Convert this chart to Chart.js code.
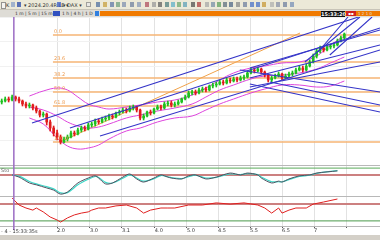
<!DOCTYPE html>
<html><head><meta charset="utf-8">
<script src="https://cdn.jsdelivr.net/npm/chart.js@4.4.1/dist/chart.umd.min.js"></script>
<style>
html,body{margin:0;padding:0;width:380px;height:240px;overflow:hidden;background:#fff;font-family:"DejaVu Sans",sans-serif;}
#tb{position:absolute;left:0;top:0;width:380px;height:10px;background:#ece9d8;border-bottom:1px solid #c8c4b8;box-sizing:border-box;}
#tb i{position:absolute;top:2px;width:4px;height:5px;display:block;opacity:0.75;}
#tb b{position:absolute;top:1px;font:5px/8px "DejaVu Sans";color:#333;white-space:nowrap;font-weight:normal;}
#tabs{position:absolute;left:0;top:10px;width:380px;height:7px;background:#dedcd6;}
#tabs b{position:absolute;top:1px;font:4.5px/5px "DejaVu Sans";color:#333;white-space:nowrap;font-weight:normal;}
#orange{position:absolute;left:100px;top:11px;width:280px;height:5px;background:#f07a00;}
#clock{position:absolute;left:321px;top:11px;width:24px;height:6px;background:#111;color:#fff;font:bold 5px/6px "DejaVu Sans";text-align:center;}
#red{position:absolute;left:346px;top:11px;width:10px;height:5px;background:#d02020;color:#fff;font:4px/5px "DejaVu Sans";text-align:center;}
#rtx{position:absolute;left:358px;top:11px;font:4px/5px "DejaVu Sans";color:#ddd;}
#wrap{position:absolute;left:0;top:17px;width:380px;height:218px;}
#bot{position:absolute;left:0;top:235px;width:380px;height:5px;background:#d4d0c8;}
</style></head>
<body>
<div id="tb">
 <i style="left:1px;background:#f8f8f8;border:1px solid #777;width:3px"></i>
 <b style="left:6px">K</b>
 <i style="left:11px;background:#8aa0c8"></i>
 <i style="left:17px;background:#2a48a8"></i>
 <b style="left:24px">▾ 2024.20.4R.LE ▾</b>
 <i style="left:57px;background:#3a5cc8"></i>
 <b style="left:63px">▾ DAX ▾</b>
 <i style="left:86px;background:#e8e8e8;border:1px solid #888;width:3px;height:3px"></i>
 <i style="left:96px;background:#5070a0"></i>
 <i style="left:103px;background:#c8a040"></i>
 <i style="left:110px;background:#6078a8"></i>
 <i style="left:116px;background:#70a080"></i>
 <i style="left:122px;background:#8090b0"></i>
 <i style="left:130px;background:#7080a0"></i>
 <i style="left:137px;background:#8898b8"></i>
 <i style="left:145px;background:#b05060"></i>
 <i style="left:152px;background:#9a9a9a"></i>
 <i style="left:158px;background:#606060"></i>
 <i style="left:165px;background:#508080"></i>
 <i style="left:171px;background:#60b0c8"></i>
 <i style="left:177px;background:#70a870"></i>
 <i style="left:183px;background:#60a0b8"></i>
 <i style="left:191px;background:#505050"></i>
 <i style="left:197px;background:#b04040"></i>
 <i style="left:205px;background:#a8a8a8"></i>
 <i style="left:211px;background:#7890a8"></i>
 <i style="left:217px;background:#60a060"></i>
 <i style="left:223px;background:#607080"></i>
 <i style="left:229px;background:#506888"></i>
 <i style="left:236px;background:#8a8a8a"></i>
 <i style="left:243px;background:#7080a0"></i>
 <i style="left:250px;background:#4a72c8"></i>
 <i style="left:256px;background:#4a72c8"></i>
 <i style="left:262px;background:#c89838"></i>
 <i style="left:270px;background:#b0b0b0"></i>
 <i style="left:276px;background:#8890a8"></i>
 <i style="left:283px;background:#7080a0"></i>
 <i style="left:290px;background:#7890b8"></i>
</div>
<div id="tabs">
 <b style="left:15px">1 m | 5 m | 15 m</b>
 <i style="position:absolute;left:53px;top:1px;width:7px;height:5px;background:#3050c0"></i>
 <b style="left:62px">1 h | 4 h | 1 D</b>
 <i style="position:absolute;left:95px;top:1px;width:4px;height:5px;background:#3080e0"></i>
</div>
<div id="orange"></div>
<div id="clock">15:33:20</div>
<div id="red">▪▪</div>
<div id="rtx">1 2 1 0</div>
<div id="wrap"><canvas id="c" width="380" height="218"></canvas></div>
<div id="bot"></div>
<script>
// ---------- data ----------
const opens = [9400,9410,9430,9420,9450,9430,9410,9380,9360,9370,
 9340,9310,9270,9280,9200,9140,9090,9050,9000,9030,
 9050,9090,9080,9120,9140,9130,9170,9180,9210,9200,
 9230,9240,9260,9250,9290,9300,9320,9310,9340,9350,
 9320,9240,9260,9300,9290,9330,9350,9340,9380,9390,
 9370,9380,9400,9430,9450,9490,9500,9490,9520,9530,
 9520,9560,9570,9580,9600,9590,9620,9610,9630,9620,
 9640,9650,9690,9720,9710,9730,9700,9670,9620,9640,
 9660,9680,9640,9660,9680,9690,9720,9740,9720,9760,
 9800,9860,9910,9940,9920,9950,9960,9970,10010,10040];
const highs = [9430,9450,9450,9470,9460,9450,9420,9400,9390,9380,
 9360,9320,9300,9290,9220,9160,9120,9070,9050,9070,
 9110,9110,9140,9160,9160,9190,9200,9230,9230,9250,
 9260,9280,9280,9300,9320,9340,9340,9360,9370,9360,
 9330,9280,9310,9320,9340,9370,9370,9400,9410,9410,
 9400,9420,9440,9470,9510,9520,9520,9540,9550,9550,
 9570,9590,9600,9620,9620,9640,9640,9650,9650,9660,
 9670,9710,9740,9740,9750,9740,9710,9680,9660,9680,
 9700,9690,9680,9700,9710,9740,9760,9760,9780,9820,
 9880,9930,9960,9960,9970,9980,9990,10030,10060,10090];
const lows = [9380,9400,9400,9410,9410,9390,9360,9340,9340,9320,
 9290,9250,9250,9170,9110,9060,9020,8980,8990,9010,
 9040,9060,9070,9100,9110,9120,9150,9160,9180,9190,
 9210,9220,9230,9240,9270,9290,9290,9300,9320,9300,
 9220,9220,9250,9270,9280,9320,9320,9330,9360,9350,
 9350,9370,9390,9420,9440,9470,9470,9480,9500,9500,
 9510,9540,9550,9570,9570,9580,9590,9600,9600,9610,
 9620,9640,9680,9690,9700,9680,9650,9600,9600,9630,
 9650,9620,9630,9650,9660,9680,9710,9700,9710,9750,
 9790,9840,9890,9900,9910,9930,9940,9960,10000,10030];
const closes = [9410,9430,9420,9450,9430,9410,9380,9360,9370,9340,
 9310,9270,9280,9200,9140,9090,9050,9000,9030,9050,
 9090,9080,9120,9140,9130,9170,9180,9210,9200,9230,
 9240,9260,9250,9290,9300,9320,9310,9340,9350,9320,
 9240,9260,9300,9290,9330,9350,9340,9380,9390,9370,
 9380,9400,9430,9450,9490,9500,9490,9520,9530,9520,
 9560,9570,9580,9600,9590,9620,9610,9630,9620,9640,
 9650,9690,9720,9710,9730,9700,9670,9620,9640,9660,
 9680,9640,9660,9680,9690,9720,9740,9720,9760,9800,
 9860,9910,9940,9920,9950,9960,9970,10010,10040,10080];

const bandIdx = [8,12,16,19,22,25,28,31,36,40,45,50,55,59,63,67,72,76,81,86,91,95,99];
const bandUpper = [9460,9510,9540,9520,9450,9380,9350,9330,9350,9370,9400,9420,9470,9540,9620,9690,9740,9760,9790,9800,9860,9970,10060];
const bandMiddle = [9350,9320,9260,9200,9160,9140,9150,9180,9240,9270,9310,9340,9380,9450,9520,9570,9630,9660,9670,9690,9730,9790,9850];
const bandLower = [9240,9180,9040,8960,8930,8940,8970,9030,9110,9140,9200,9240,9260,9320,9380,9430,9490,9530,9570,9570,9550,9560,9610];

const fibLabels = ['0.0','23.6','38.2','50.0','61.8','100.0'];
const fibLevels = [10070,9800,9640,9500,9360,9000];
const fibStart = 14.8;
const fibDiagonal = [[16.8,9000],[86.2,10090]];

const trendLines = [
 [[8.75,9190],[109.3,10320]],
 [[19.7,9140],[109.3,10140]],
 [[28.4,9060],[109.3,9920]],
 [[71.7,9740],[109.3,10120]],
 [[71.7,9640],[109.3,9970]],
 [[71.7,9550],[109.3,9800]],
 [[68.8,9720],[109.3,9500]],
 [[71.7,9580],[109.3,9300]],
 [[77.5,9600],[109.3,9370]],
 [[87.6,9800],[103.5,10250]],
 [[94.8,9870],[107,10250]],
 [[91.4,9900],[100.05,10250]]
];

const osc1Name = 'Sto';
const osc1Idx = [3,5,8,10,13,15,17,19,22,25,27,28,30,32,35,37,39,41,44,46,48,49,52,54,56,59,62,66,69,71,74,75,78,80,81,83,86,89,91,97];
const osc1Main = [68,61,42,36,26,19,6,13,42,58,65,58,39,42,61,71,55,45,58,68,61,58,55,65,68,55,61,74,68,74,68,58,42,48,45,55,65,68,74,81];
const osc1Signal = [68,64,47,39,30,23,10,11,36,54,63,60,44,42,57,68,58,48,56,66,62,59,56,62,67,58,60,71,69,72,69,61,46,46,46,53,63,67,73,82];
const osc1Levels = [90,68];

const osc2Idx = [3,5,7,9,10,12,14,16,17,19,21,23,25,26,28,30,33,36,39,41,43,46,48,50,54,58,62,66,70,74,76,78,80,81,83,85,88,90,93,97];
const osc2Vals = [93,70,60,53,60,47,30,20,13,27,37,43,47,53,60,60,67,70,60,43,53,60,60,60,70,70,77,73,77,70,60,43,60,43,53,60,60,73,80,90];
const osc2Levels = [73,17];

const dateTicks = [16,25.5,34.75,44.25,53.5,62.5,71.75,81,90.25,99.5];
const dateLabels = ['2.0','3.0','3.1','4.0','5.0','4.5','5.5','6.5','7',''];
const markerIdx = 3.5;
const statusText = '- 4 - 15:33:35s';

// ---------- build ----------
const X_MIN = -0.5, X_MAX = 109.3;
const UP = '#1ec01e', DOWN = '#e01c1c';
const candleColors = closes.map((c,i)=> c >= opens[i] ? UP : DOWN);
const pts = (xs, ys) => xs.map((x,k)=>({x, y: ys[k]}));
const line = (data, color, width, axis, order, tension) => ({
  type:'line', data, borderColor:color, borderWidth:width, pointRadius:0,
  fill:false, tension: tension||0, yAxisID:axis, order
});

const datasets = [];
fibLevels.forEach(lv => datasets.push(line([{x:fibStart,y:lv},{x:X_MAX,y:lv}], '#f6b474', 1.3, 'y', 20)));
datasets.push(line(fibDiagonal.map(p=>({x:p[0],y:p[1]})), '#f0a24a', 1, 'y', 19));
datasets.push(line(pts(bandIdx, bandUpper), '#dd44dd', 1, 'y', 15, 0.4));
datasets.push(line(pts(bandIdx, bandMiddle), '#dd44dd', 1, 'y', 15, 0.4));
datasets.push(line(pts(bandIdx, bandLower), '#dd44dd', 1, 'y', 15, 0.4));
datasets.push({type:'bar', data: closes.map((c,i)=>({x:i, y:[lows[i], highs[i]]})), backgroundColor: candleColors, barThickness:1, grouped:false, yAxisID:'y', order:12});
datasets.push({type:'bar', data: closes.map((c,i)=>({x:i, y:[opens[i], c]})), backgroundColor: candleColors, barThickness:2, grouped:false, yAxisID:'y', order:11});
trendLines.forEach(t => datasets.push(line(t.map(p=>({x:p[0],y:p[1]})), '#3434c8', 1.1, 'y', 5)));

datasets.push(line([{x:X_MIN,y:osc1Levels[0]},{x:X_MAX,y:osc1Levels[0]}], '#5aaa5a', 1, 'y2', 9));
datasets.push(line([{x:X_MIN,y:osc1Levels[1]},{x:X_MAX,y:osc1Levels[1]}], '#cc8080', 2, 'y2', 9));
datasets.push(line(pts(osc1Idx, osc1Signal), '#3cd8c8', 1.2, 'y2', 4, 0.3));
datasets.push(line(pts(osc1Idx, osc1Main), '#505060', 1, 'y2', 3, 0.3));
datasets.push(line([{x:X_MIN,y:osc2Levels[0]},{x:X_MAX,y:osc2Levels[0]}], '#cc8080', 2, 'y3', 9));
datasets.push(line([{x:X_MIN,y:osc2Levels[1]},{x:X_MAX,y:osc2Levels[1]}], '#4a9a4a', 1, 'y3', 9));
datasets.push(line(pts(osc2Idx, osc2Vals), '#e02020', 1, 'y3', 3));

const overlay = {
  id:'overlay',
  beforeDatasetsDraw(chart){
    const {ctx, chartArea, scales:{y2, y3}} = chart;
    ctx.save();
    ctx.strokeStyle = '#b8b8b8'; ctx.lineWidth = 1;
    [y2.top, y3.top, y3.bottom].forEach(t=>{
      const yy = Math.round(t)+0.5;
      ctx.beginPath(); ctx.moveTo(chartArea.left, yy); ctx.lineTo(chartArea.right, yy); ctx.stroke();
    });
    ctx.restore();
  },
  afterDatasetsDraw(chart){
    const {ctx, chartArea, scales:{x, y, y2}} = chart;
    ctx.save();
    const px = x.getPixelForValue(markerIdx);
    ctx.strokeStyle = '#9c6cc4'; ctx.lineWidth = 1.5;
    ctx.beginPath(); ctx.moveTo(px, chartArea.top); ctx.lineTo(px, chartArea.bottom+4); ctx.stroke();
    ctx.font = '5px "DejaVu Sans"'; ctx.fillStyle = '#ee9c50'; ctx.textBaseline = 'bottom';
    fibLevels.forEach((lv,k)=> ctx.fillText(fibLabels[k], x.getPixelForValue(fibStart)+1, y.getPixelForValue(lv)-1));
    ctx.fillStyle = '#666'; ctx.textBaseline = 'top';
    ctx.fillText(osc1Name, 1, y2.top+3);
    ctx.fillStyle = '#333';
    ctx.fillText(statusText, 1, chartArea.bottom+3);
    ctx.restore();
  }
};

const hideY = (extra) => Object.assign({
  type:'linear', position:'right', stack:'panels', min:0, max:100,
  ticks:{display:false}, grid:{display:false, drawTicks:false}, border:{display:false},
  afterFit: s => { s.width = 0; }
}, extra);

new Chart(document.getElementById('c'), {
  type:'bar',
  data:{datasets},
  options:{
    responsive:false, animation:false, maintainAspectRatio:false,
    layout:{padding:0},
    plugins:{legend:{display:false}, tooltip:{enabled:false}},
    scales:{
      x:{type:'linear', min:X_MIN, max:X_MAX, offset:false, position:'bottom',
         grid:{color:'#e2e2e2', offset:false, tickLength:2, tickColor:'#555'},
         border:{display:false},
         afterBuildTicks: s => { s.ticks = dateTicks.map(v=>({value:v})); },
         ticks:{callback:(v,i)=>dateLabels[i], font:{size:5, family:'DejaVu Sans'}, color:'#333', padding:0, align:'start', maxRotation:0, autoSkip:false},
         afterFit: s => { s.height = 9; }},
      y: hideY({stackWeight:148, min:8770, max:10250, ticks:{display:false, stepSize:250}, grid:{display:true, color:'#f1f1f1', drawTicks:false}}),
      y2: hideY({stackWeight:31}),
      y3: hideY({stackWeight:30})
    }
  },
  plugins:[overlay]
});
</script>
</body></html>
